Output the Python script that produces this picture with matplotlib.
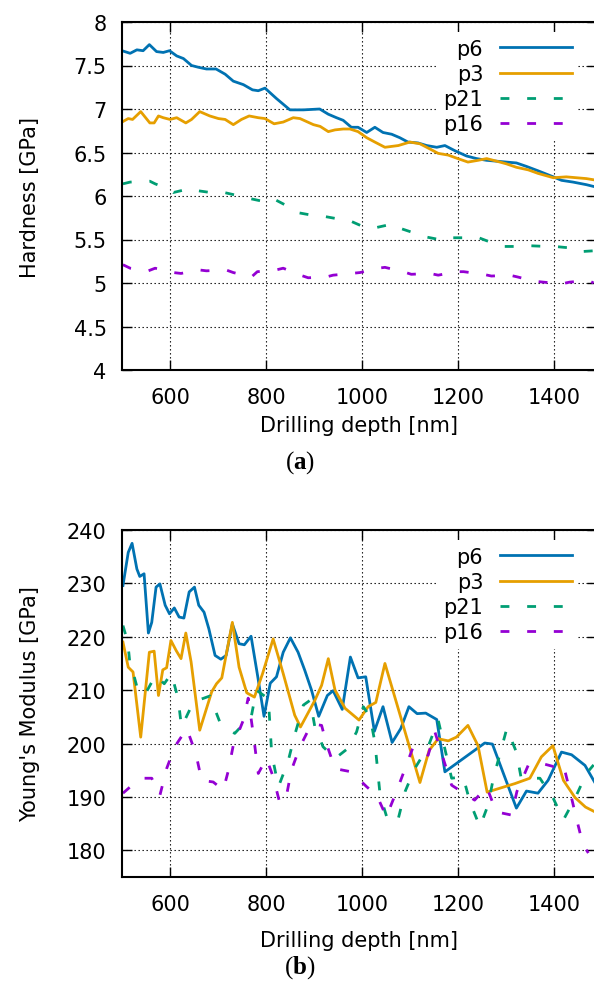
import matplotlib
matplotlib.use("Agg")
import matplotlib.pyplot as plt

plt.rcParams['font.family'] = ['DejaVu Sans']
plt.rcParams['font.size'] = 15
plt.rcParams['mathtext.fontset'] = 'custom'
plt.rcParams['mathtext.rm'] = 'Liberation Serif'
plt.rcParams['mathtext.bf'] = 'Liberation Serif:bold'

# colours (gnuplot-like palette)
c_p6 = '#0072b2'
c_p3 = '#e69f00'
c_p21 = '#009e73'
c_p16 = '#9400d3'

# ---- (a) hardness ----
h_p6_x = [500, 517, 531, 544, 557, 572, 586, 599, 614, 628, 645, 659, 676, 696, 715, 732, 753, 772, 784, 798,
          822, 850, 878, 912, 930, 947, 961, 978, 992, 1010, 1027, 1044, 1062, 1079, 1096, 1117, 1135, 1156,
          1173, 1194, 1218, 1239, 1260, 1281, 1301, 1322, 1343, 1367, 1399, 1416, 1440, 1468, 1490]
h_p6_y = [7.67, 7.64, 7.68, 7.67, 7.74, 7.66, 7.65, 7.67, 7.61, 7.58, 7.50, 7.48, 7.46, 7.46, 7.40, 7.32, 7.28,
          7.22, 7.21, 7.24, 7.12, 6.99, 6.99, 7.00, 6.94, 6.90, 6.87, 6.79, 6.79, 6.73, 6.79, 6.73, 6.71, 6.67,
          6.62, 6.61, 6.58, 6.56, 6.58, 6.52, 6.46, 6.43, 6.41, 6.40, 6.39, 6.38, 6.34, 6.29, 6.22, 6.18, 6.16,
          6.13, 6.10]

h_p3_x = [500, 513, 522, 539, 558, 567, 576, 586, 600, 614, 633, 645, 662, 683, 701, 715, 732, 749, 765, 784,
          798, 817, 836, 857, 871, 899, 913, 930, 944, 961, 975, 992, 1010, 1027, 1048, 1076, 1100, 1121, 1142,
          1159, 1180, 1200, 1221, 1242, 1260, 1281, 1301, 1322, 1347, 1367, 1399, 1426, 1447, 1468, 1490]
h_p3_y = [6.85, 6.89, 6.88, 6.97, 6.84, 6.84, 6.92, 6.90, 6.88, 6.90, 6.84, 6.88, 6.97, 6.92, 6.89, 6.88, 6.82,
          6.88, 6.92, 6.90, 6.89, 6.83, 6.85, 6.90, 6.89, 6.82, 6.80, 6.74, 6.76, 6.77, 6.77, 6.74, 6.67, 6.62,
          6.56, 6.58, 6.62, 6.60, 6.54, 6.49, 6.47, 6.43, 6.39, 6.41, 6.43, 6.40, 6.37, 6.33, 6.30, 6.26, 6.21,
          6.22, 6.21, 6.20, 6.18]

h_p21_x = [502, 517, 558, 569, 601, 607, 645, 659, 697, 713, 753, 767, 801, 815, 853, 865, 905, 917, 957, 973,
           1010, 1024, 1065, 1079, 1117, 1133, 1170, 1183, 1225, 1239, 1277, 1291, 1329, 1343, 1385, 1402, 1440,
           1454, 1483]
h_p21_y = [6.14, 6.16, 6.17, 6.14, 6.07, 6.04, 6.09, 6.06, 6.03, 6.04, 5.99, 5.97, 5.93, 5.97, 5.86, 5.81, 5.77,
           5.77, 5.73, 5.72, 5.63, 5.63, 5.68, 5.63, 5.56, 5.53, 5.49, 5.52, 5.52, 5.53, 5.45, 5.42, 5.42, 5.43,
           5.42, 5.42, 5.40, 5.36, 5.37]

h_p16_x = [502, 517, 555, 569, 607, 623, 661, 676, 717, 732, 770, 782, 821, 836, 872, 888, 926, 940, 978, 996,
           1034, 1048, 1086, 1103, 1142, 1159, 1197, 1212, 1253, 1270, 1308, 1324, 1360, 1378, 1416, 1433, 1472,
           1483]
h_p16_y = [5.21, 5.17, 5.14, 5.17, 5.12, 5.11, 5.15, 5.14, 5.15, 5.12, 5.07, 5.13, 5.15, 5.17, 5.09, 5.06, 5.07,
           5.09, 5.11, 5.12, 5.17, 5.18, 5.13, 5.10, 5.11, 5.09, 5.13, 5.13, 5.10, 5.08, 5.09, 5.07, 5.02, 5.01,
           4.99, 5.01, 5.03, 5.00]

# ---- (b) Young's modulus ----
e_p6_x = [502, 513, 521, 531, 537, 546, 555, 562, 571, 579, 590, 599, 609, 619, 629, 640, 651, 660, 671, 681,
          694, 706, 717, 730, 744, 755, 769, 783, 796, 809, 822, 836, 851, 867, 881, 895, 910, 928, 940, 959,
          976, 992, 1008, 1026, 1044, 1063, 1081, 1098, 1115, 1133, 1156, 1173, 1256, 1272, 1322, 1343, 1367,
          1388, 1416, 1437, 1465, 1490]
e_p6_y = [229.6, 235.8, 237.5, 232.7, 231.3, 231.8, 220.7, 222.7, 229.3, 229.9, 225.9, 224.3, 225.4, 223.7,
          223.5, 228.4, 229.3, 225.9, 224.6, 221.5, 216.5, 215.8, 216.5, 222.4, 218.7, 218.5, 220.1, 212.5,
          205.1, 211.3, 212.5, 217.1, 219.8, 217.1, 213.7, 210.0, 205.1, 209.0, 209.9, 206.4, 216.2, 212.3,
          212.5, 202.3, 206.9, 200.2, 202.8, 206.9, 205.6, 205.7, 204.5, 194.7, 200.1, 199.9, 187.9, 191.1,
          190.7, 193.1, 198.4, 197.9, 195.9, 192.0]

e_p3_x = [502, 513, 523, 539, 557, 567, 576, 585, 593, 602, 613, 623, 633, 644, 662, 687, 697, 708, 730, 744,
          760, 776, 793, 815, 836, 860, 872, 902, 916, 930, 944, 965, 994, 1013, 1029, 1048, 1121, 1140, 1159,
          1180, 1197, 1221, 1242, 1261, 1319, 1350, 1374, 1398, 1420, 1444, 1466, 1490]
e_p3_y = [219.0, 214.3, 213.4, 201.2, 217.1, 217.3, 209.0, 213.8, 214.2, 219.3, 217.4, 215.9, 220.7, 215.3,
          202.5, 209.7, 211.2, 212.3, 222.7, 214.3, 209.5, 208.7, 213.1, 219.6, 213.1, 205.3, 203.1, 208.1,
          210.9, 215.9, 210.0, 206.6, 204.4, 206.9, 207.7, 215.0, 192.7, 198.7, 200.9, 200.5, 201.2, 203.4,
          199.6, 190.9, 192.5, 193.5, 197.5, 199.6, 193.1, 189.9, 188.1, 187.0]

e_p21_x = [502, 512, 518, 525, 535, 551, 570, 588, 603, 617, 624, 649, 683, 704, 735, 770, 780, 805, 812, 826,
           846, 860, 878, 892, 902, 919, 944, 971, 989, 1003, 1017, 1027, 1038, 1055, 1076, 1090, 1110, 1138,
           1159, 1176, 1187, 1211, 1225, 1246, 1263, 1274, 1302, 1322, 1332, 1371, 1399, 1420, 1444, 1468, 1483]
e_p21_y = [222.1, 219.0, 213.6, 212.7, 209.3, 209.7, 212.8, 211.2, 213.1, 208.4, 203.1, 207.8, 208.9, 204.0,
           201.9, 205.3, 210.0, 208.4, 198.1, 191.9, 196.6, 201.6, 207.2, 208.1, 203.1, 199.4, 197.2, 199.1,
           202.2, 206.9, 205.0, 200.3, 190.3, 185.3, 186.0, 191.0, 195.3, 199.4, 204.4, 197.8, 193.5, 193.8,
           189.1, 184.4, 188.5, 193.5, 202.8, 198.4, 193.5, 193.5, 189.7, 185.7, 189.7, 194.4, 196.0]

e_p16_x = [502, 525, 544, 562, 579, 593, 610, 635, 654, 666, 690, 711, 721, 732, 753, 763, 770, 777, 784, 801,
           815, 829, 843, 853, 871, 895, 916, 926, 944, 978, 1010, 1031, 1051, 1072, 1090, 1107, 1138, 1152,
           1187, 1235, 1260, 1280, 1312, 1323, 1347, 1374, 1399, 1420, 1433, 1447, 1461, 1472]
e_p16_y = [190.7, 192.5, 193.5, 193.5, 190.3, 195.3, 199.4, 202.8, 198.1, 193.1, 192.8, 191.3, 194.7, 199.7,
           204.4, 208.5, 204.1, 199.4, 194.4, 197.2, 193.8, 188.8, 190.3, 195.0, 199.4, 203.7, 203.4, 200.0,
           195.3, 194.7, 191.9, 190.3, 186.3, 191.0, 195.3, 199.4, 197.8, 202.2, 192.2, 189.4, 191.9, 187.2,
           186.6, 191.0, 196.0, 196.3, 195.7, 196.0, 191.3, 186.0, 181.0, 179.5]

W, H = 594, 987
fig = plt.figure(figsize=(W / 100, H / 100), dpi=100)


def pos(left, top, right, bottom):
    return [left / W, 1 - bottom / H, (right - left) / W, (bottom - top) / H]


ax1 = fig.add_axes(pos(122, 23, 597, 371))
ax2 = fig.add_axes(pos(122, 531, 597, 878))

lw = 2.0
dash = (3.2, 6.4)


def style(ax, ylim, yticks, ylabel, xlab_y):
    ax.set_xlim(500, 1490)
    ax.set_ylim(*ylim)
    ax.set_xticks([600, 800, 1000, 1200, 1400])
    ax.set_yticks(yticks)
    ax.tick_params(direction='in', length=7, width=1, top=True, right=True)
    ax.tick_params(axis='y', pad=11)
    ax.tick_params(axis='x', pad=12)
    ax.grid(True, color='black', linestyle=(0, (1.2, 2.4)), linewidth=0.8)
    for s in ax.spines.values():
        s.set_linewidth(1.5)
    ax.set_xlabel('Drilling depth [nm]')
    ax.xaxis.set_label_coords(0.5, xlab_y)
    ax.set_ylabel(ylabel)
    ax.yaxis.set_label_coords(-0.172, 0.5)
    leg = ax.legend(loc='upper right', bbox_to_anchor=(0.96, 0.97), markerfirst=False,
                    handlelength=3.45, handletextpad=0.8, labelspacing=0.25, borderpad=0.3,
                    borderaxespad=0, fancybox=False, framealpha=1, edgecolor='none')
    leg.set_zorder(5)


ax1.plot(h_p6_x, h_p6_y, color=c_p6, lw=lw, label='p6')
ax1.plot(h_p3_x, h_p3_y, color=c_p3, lw=lw, label='p3')
ax1.plot(h_p21_x, h_p21_y, color=c_p21, lw=lw, dashes=dash, label='p21')
ax1.plot(h_p16_x, h_p16_y, color=c_p16, lw=lw, dashes=dash, label='p16')
style(ax1, (4, 8), [4, 4.5, 5, 5.5, 6, 6.5, 7, 7.5, 8], 'Hardness [GPa]', -0.128)
ax1.set_yticklabels(['4', '4.5', '5', '5.5', '6', '6.5', '7', '7.5', '8'])

ax2.plot(e_p6_x, e_p6_y, color=c_p6, lw=lw, label='p6')
ax2.plot(e_p3_x, e_p3_y, color=c_p3, lw=lw, label='p3')
ax2.plot(e_p21_x, e_p21_y, color=c_p21, lw=lw, dashes=dash, label='p21')
ax2.plot(e_p16_x, e_p16_y, color=c_p16, lw=lw, dashes=dash, label='p16')
style(ax2, (175, 240), [180, 190, 200, 210, 220, 230, 240], "Young's Modulus [GPa]", -0.1513)

fig.text(300 / W, 1 - 463 / H, r'($\mathbf{a}$)', ha='center', va='center', fontsize=18,
         family='Liberation Serif')
fig.text(300 / W, 1 - 968 / H, r'($\mathbf{b}$)', ha='center', va='center', fontsize=18,
         family='Liberation Serif')

fig.savefig('out.png', dpi=100)
